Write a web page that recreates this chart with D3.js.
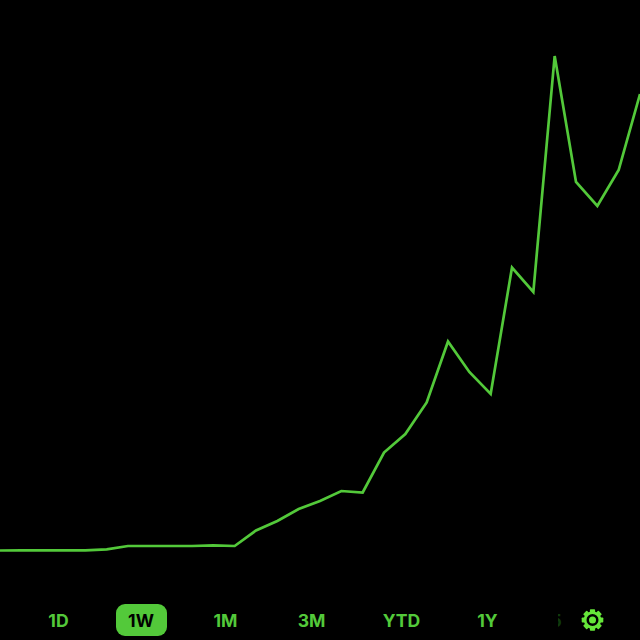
<!DOCTYPE html>
<html><head><meta charset="utf-8">
<script src="https://cdn.jsdelivr.net/npm/d3@7/dist/d3.min.js"></script>
<style>html,body{margin:0;padding:0;background:#000;overflow:hidden}svg{display:block}</style>
</head><body><svg id="c" width="640" height="640"></svg>
<script>
const indexes = d3.range(31);
const values = [49.5,49.7,49.6,49.7,49.7,50.7,54,54,54,54,54.7,54,69.5,79,91,99,109,107.5,147.5,166,197.5,258.5,228,206,332.5,308,544,418,394,430,506];
const ranges = ["1D","1W","1M","3M","YTD","1Y"];
const activeRange = "1W";
const rangeCenters = [58.5,141,225.5,311.5,401.5,487.5];
const lineColor = "#53c93a", gearColor = "#66e63a";

const svg = d3.select("#c");
const x = d3.scaleLinear().domain([0,30]).range([0,640]);
const y = d3.scaleLinear().domain([0,600]).range([600,0]);
svg.append("rect").attr("width",640).attr("height",640).attr("fill","#000");
svg.append("path").datum(values)
  .attr("d", d3.line().x((d,i)=>x(indexes[i])).y(d=>y(d)))
  .attr("fill","none").attr("stroke",lineColor).attr("stroke-width",2.7).attr("stroke-linejoin","miter");

const g = svg.append("g").attr("font-family","Inter, Roboto, sans-serif").attr("font-size",17.6).attr("font-weight",700);
g.append("rect").attr("x",116).attr("y",604).attr("width",51).attr("height",32).attr("rx",9).attr("fill",lineColor);
g.selectAll("text.r").data(ranges).join("text").attr("class","r")
  .attr("x",(d,i)=>rangeCenters[i]).attr("y",626.5).attr("text-anchor","middle")
  .attr("fill",d=>d===activeRange?"#000":lineColor).text(d=>d);
svg.append("defs").append("clipPath").attr("id","sliver").append("rect").attr("x",558).attr("y",604).attr("width",4).attr("height",32);
g.append("text").attr("x",556).attr("y",626.5).attr("text-anchor","middle").attr("fill","#0f3a0c").attr("clip-path","url(#sliver)").text("5");

// settings gear
const gear = svg.append("g").attr("transform","translate(592.5,620)");
gear.selectAll("rect").data(d3.range(8)).join("rect")
  .attr("x",-2.6).attr("y",-10.8).attr("width",5.2).attr("height",4.5).attr("rx",0.8)
  .attr("fill",gearColor).attr("transform",d=>`rotate(${d*45})`);
gear.append("circle").attr("r",7.4).attr("fill","none").attr("stroke",gearColor).attr("stroke-width",2.6);
gear.append("circle").attr("r",3.5).attr("fill",gearColor);
</script></body></html>
